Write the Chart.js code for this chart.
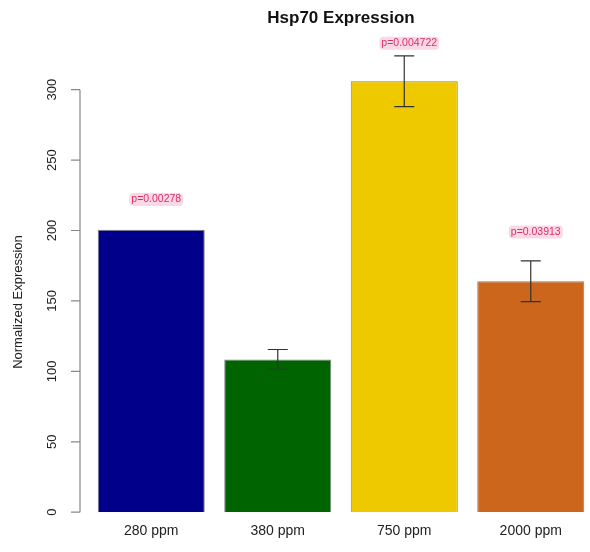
<!DOCTYPE html>
<html>
<head>
<meta charset="utf-8">
<script src="https://cdn.jsdelivr.net/npm/chart.js@4"></script>
<style>
html,body{margin:0;padding:0;background:#fff;overflow:hidden;width:590px;height:552px;}
#wrap{width:600px;height:552px;}
</style>
</head>
<body>
<div id="wrap"><canvas id="c" width="600" height="552"></canvas></div>
<script>
const categories = ["280 ppm", "380 ppm", "750 ppm", "2000 ppm"];
const expression = [200.5, 108.5, 306, 164];
const errors = [0, 7, 18, 14.5];
const barColors = ["#00008B", "#006400", "#EEC900", "#CD661D"];
const pLabels = ["p=0.00278", null, "p=0.004722", "p=0.03913"];
const pLabelValues = [222, null, 333, 199];
const yTicks = [0, 50, 100, 150, 200, 250, 300];
const yTitle = "Normalized Expression";
const chartTitle = "Hsp70 Expression";

const FONT = "'Liberation Sans', Arial, Helvetica, sans-serif";

const decorPlugin = {
  id: 'decor',
  afterDatasetsDraw(chart) {
    const ctx = chart.ctx;
    const y = chart.scales.y;
    ctx.save();
    const meta = chart.getDatasetMeta(0);
    // error bars
    ctx.strokeStyle = '#333';
    ctx.lineWidth = 1.2;
    expression.forEach((v, i) => {
      const e = errors[i];
      if (!e) return;
      const cx = meta.data[i].x;
      const yt = y.getPixelForValue(v + e), yb = y.getPixelForValue(v - e);
      ctx.beginPath();
      ctx.moveTo(cx, yt); ctx.lineTo(cx, yb);
      ctx.moveTo(cx - 10, yt); ctx.lineTo(cx + 10, yt);
      ctx.moveTo(cx - 10, yb); ctx.lineTo(cx + 10, yb);
      ctx.stroke();
    });
    // p labels
    ctx.font = "10.5px " + FONT;
    ctx.textAlign = 'center';
    ctx.textBaseline = 'middle';
    pLabels.forEach((t, i) => {
      if (!t) return;
      const cx = meta.data[i].x + 5;
      const cy = y.getPixelForValue(pLabelValues[i]);
      const w = ctx.measureText(t).width;
      ctx.fillStyle = 'rgba(245,185,205,0.55)';
      ctx.beginPath();
      if (ctx.roundRect) ctx.roundRect(cx - w/2 - 2, cy - 6.5, w + 4, 13, 4); else ctx.rect(cx - w/2 - 2, cy - 6.5, w + 4, 13);
      ctx.fill();
      ctx.fillStyle = '#d4306e';
      ctx.fillText(t, cx, cy);
    });
    // y axis
    const ax = 80;
    ctx.strokeStyle = '#888';
    ctx.lineWidth = 1.2;
    ctx.beginPath();
    ctx.moveTo(ax, y.getPixelForValue(yTicks[0]));
    ctx.lineTo(ax, y.getPixelForValue(yTicks[yTicks.length - 1]));
    yTicks.forEach(t => {
      const py = y.getPixelForValue(t);
      ctx.moveTo(ax, py); ctx.lineTo(ax - 9, py);
    });
    ctx.stroke();
    ctx.fillStyle = '#222';
    ctx.font = "13px " + FONT;
    yTicks.forEach(t => {
      const py = y.getPixelForValue(t);
      ctx.save();
      ctx.translate(52, py);
      ctx.rotate(-Math.PI / 2);
      ctx.textAlign = 'center';
      ctx.textBaseline = 'middle';
      ctx.fillText(String(t), 0, 0);
      ctx.restore();
    });
    // y title
    ctx.save();
    ctx.translate(18, 302);
    ctx.rotate(-Math.PI / 2);
    ctx.textAlign = 'center';
    ctx.textBaseline = 'middle';
    ctx.font = "13px " + FONT;
    ctx.fillText(yTitle, 0, 0);
    ctx.restore();
    ctx.restore();
  }
};

new Chart(document.getElementById('c'), {
  type: 'bar',
  data: {
    labels: categories,
    datasets: [{
      data: expression,
      backgroundColor: barColors,
      borderColor: 'rgba(0,0,0,0.5)',
      borderWidth: 1,
      barPercentage: 0.846,
      categoryPercentage: 1.0
    }]
  },
  options: {
    responsive: false,
    animation: false,
    devicePixelRatio: 1,
    layout: { padding: { left: 88, right: 6, top: 0, bottom: 9 } },
    plugins: {
      legend: { display: false },
      tooltip: { enabled: false },
      title: {
        display: true,
        text: chartTitle,
        color: '#111',
        font: { family: FONT, size: 17, weight: 'bold' },
        padding: { top: 8, bottom: 19 }
      }
    },
    scales: {
      x: {
        grid: { display: false },
        border: { display: false },
        ticks: { color: '#222', font: { family: FONT, size: 14 }, padding: 3 }
      },
      y: {
        display: false,
        min: 0,
        max: 330
      }
    }
  },
  plugins: [decorPlugin]
});
</script>
</body>
</html>
